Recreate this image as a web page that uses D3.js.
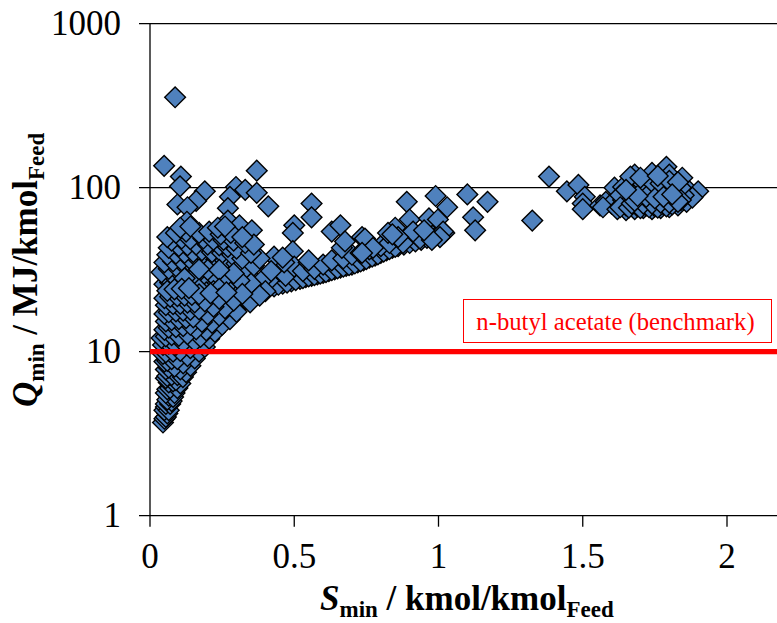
<!DOCTYPE html>
<html>
<head>
<meta charset="utf-8">
<script src="https://cdn.jsdelivr.net/npm/d3@7"></script>
<style>
  html, body { margin: 0; padding: 0; background: #fff; }
  text { font-family: "Liberation Serif", "Times New Roman", serif; }
</style>
</head>
<body>
<svg id="chart" width="777" height="623"></svg>
<script>
// Axis ticks
var xTicks = [0, 0.5, 1, 1.5, 2];
var yTicks = [1, 10, 100, 1000];
var benchmark = 10;

// Points as [S_min, Q_min], one list per part of the cloud
var outliers = [[.087,356],[.049,136],[.107,117],[.104,102],[.19,95],[.095,79],[.16,83],[.13,76],
  [.37,127],[.298,101],[.33,97],[.37,93],[.277,88],[.27,75],[.41,77],[.27,63],[.31,59],[.353,55],[.128,62],
  [.56,80],[.56,66],[.5,59],[.495,53],[.495,41],[.63,54],[.66,59]];

var lowerFan = [[.045,3.7],[.05,3.9],[.055,4.0],[.06,4.2],[.05,4.4],[.055,4.6],[.065,4.4],[.055,4.8],[.07,4.8],[.075,5.0],
  [.06,5.1],[.065,5.4],[.08,5.3],[.055,5.6],[.085,5.6],[.06,5.9],[.07,6.0],[.095,6.0],[.105,6.4],[.065,6.5],
  [.08,6.6],[.09,6.7],[.055,6.9],[.06,7.1],[.075,7.2],[.095,7.2],[.114,7.0],[.125,7.5],[.105,7.8],[.055,7.8],
  [.065,8.0],[.085,8.1],[.14,8.2],[.115,8.5],[.05,8.7],[.06,8.8],[.075,9.0],[.095,9.0],[.155,9.1],[.13,9.4],
  [.045,9.7],[.055,9.9],[.08,10],[.105,10.1],[.17,10],[.14,10.5],[.19,10.7],[.045,11],[.065,11.2],[.09,11],
  [.115,11.4],[.155,11.6],[.205,12],[.175,12.3],[.04,12.1],[.055,12.4],[.075,12.6],[.1,12.5],[.13,12.8],[.225,13.2],
  [.195,13.5],[.16,13.7],[.05,13.6],[.065,14],[.09,14.1],[.115,14.3],[.14,14.6],[.25,14.6],[.215,15],[.18,15.2],
  [.055,15.3],[.075,15.6],[.1,15.8],[.125,16],[.15,16.2],[.277,15.8],[.24,16.6],[.2,16.9],[.05,17],[.065,17.4],
  [.09,17.6],[.115,17.8],[.14,18],[.17,18.1],[.3,17.5],[.26,18.4],[.22,18.8],[.055,19.2],[.08,19.5],[.105,19.6],
  [.13,19.9],[.155,20],[.19,20.3],[.347,20],[.29,20.5],[.24,21],[.05,21.2],[.07,21.6],[.095,21.8],[.12,22],
  [.145,22.2],[.17,22.4],[.21,22.7],[.38,22],[.32,22.5],[.265,23],[.06,23.5],[.085,24],[.11,24.2],[.135,24.4]];

var fanCore = [[.1,8.3],[.12,8.9],[.13,8.6],[.145,9.6],[.16,9.8],[.12,10.4],[.15,10.2],[.175,11],[.125,11],[.165,11.2],
  [.14,11.5],[.185,11.8],[.11,11.9],[.15,12.3],[.19,12.6],[.12,12.2],[.165,12.9],[.21,13],[.14,13.2],[.18,13.8],
  [.105,13.4],[.125,13.6],[.205,14],[.15,14.2],[.17,14.5],[.23,14.3],[.13,14.9],[.195,15.2],[.155,15.3],[.24,15.4],
  [.115,15.4],[.175,15.9],[.21,15.9],[.14,16.3],[.19,16.4],[.26,16.2],[.16,16.8],[.225,17],[.125,17],[.18,17.4],
  [.205,17.6],[.245,17.8],[.15,17.8],[.28,17.4],[.1,18.2],[.19,18.4],[.165,18.6],[.235,19],[.135,19],[.21,19.4],
  [.27,19.2],[.31,19],[.18,19.5],[.15,19.4],[.115,20.3],[.2,20.5],[.25,20],[.17,20.8],[.225,21],[.14,21],
  [.33,21],[.27,21.3],[.19,21.6],[.3,21.8],[.16,22],[.245,22.3],[.21,23],[.36,23.6],[.13,23],[.18,23.4],
  [.28,23.5],[.23,23.8],[.155,23.6],[.33,24],[.2,24.6],[.3,25],[.25,25],[.4,23.4],[.175,25.6],[.22,26],
  [.27,25.8],[.35,26],[.15,26.2],[.2,27],[.24,27.2],[.31,27.2],[.12,25.6],[.18,28.2],[.26,28.4],[.22,29.2],
  [.155,29],[.29,30],[.2,31.5],[.24,31.5],[.12,28],[.17,31.8]];

var fanCentre = [[.11,9.2],[.135,9.9],[.15,11],[.16,10.6],[.13,11.6],[.175,12.4],[.145,12.7],[.185,13],[.16,13.3],[.17,13.9],
  [.135,14],[.155,14.8],[.19,14.5],[.205,15.3],[.165,15.7],[.185,16],[.145,15.8],[.2,16.3],[.22,16.4],[.17,16.6],
  [.155,17.1],[.19,17.2],[.215,17.9],[.17,17.7],[.135,17.4],[.2,18.2],[.23,18.2],[.16,18.4],[.18,18.9],[.145,18.6],
  [.205,19],[.22,19.7],[.19,19.8],[.165,19.5],[.24,19.6],[.175,20.2],[.21,20.4],[.155,20.9],[.235,20.6],[.185,21],
  [.2,21.8],[.165,21.6],[.225,22],[.18,22.4],[.255,22],[.195,23],[.145,23.2],[.22,23.4],[.17,24],[.24,24.2]];

var upperFan = [[.155,24.7],[.18,25],[.205,25.3],[.34,23.5],[.295,24.5],[.255,25.4],[.05,25.8],[.07,26.4],[.095,26.6],[.12,27],
  [.145,27.2],[.17,27.5],[.195,27.8],[.225,28],[.28,27],[.32,26.5],[.37,25.5],[.055,29],[.08,29.2],[.11,29.6],
  [.135,30],[.16,30.3],[.185,30.6],[.215,31],[.25,29.5],[.3,29],[.35,28.2],[.04,30.5],[.065,32],[.095,32.5],
  [.125,33],[.15,33.4],[.175,33.8],[.205,34],[.24,33],[.27,32],[.33,31],[.395,28],[.05,35],[.08,35.6],
  [.11,36],[.14,36.5],[.165,37],[.195,37.5],[.23,36.5],[.26,36],[.3,34.5],[.36,33.5],[.42,31],[.06,39],
  [.09,39.6],[.12,40],[.15,40.5],[.18,41.5],[.215,40.5],[.25,40],[.285,39],[.32,37],[.38,37],[.065,43],
  [.1,44],[.13,44.5],[.16,45],[.2,45],[.24,44.5],[.27,43.5],[.3,42.5],[.35,40],[.075,47.5],[.11,49],
  [.14,48.5],[.185,49],[.22,48],[.255,48],[.29,47.5],[.33,46],[.36,45],[.06,50],[.09,53],[.125,54],
  [.17,53],[.205,54],[.245,52],[.28,53],[.32,50],[.105,57],[.14,58],[.235,57],[.26,58]];

var midCurve = [[.4,24],[.43,25],[.46,26],[.49,26.8],[.52,27.8],[.54,28.5],[.56,29],[.58,29.6],[.6,30.2],[.62,31],
  [.64,31.8],[.66,32.6],[.68,33.4],[.7,34],[.72,35],[.74,36],[.76,37.5],[.78,38.5],[.8,40],[.82,41.5],
  [.84,43],[.86,44],[.88,45],[.9,46],[.92,47],[.94,48],[.96,49.5],[.98,51],[1,52],[1.02,53],
  [.445,25.6],[.475,26.4],[.505,27.3],[.53,28.1],[.55,28.8],[.57,29.3],[.59,29.9],[.61,30.6],[.63,31.4],[.65,32.2],
  [.67,33],[.69,33.7],[.71,34.5],[.73,35.5],[.75,36.7],[.77,38],[.79,39.2],[.81,40.7],[.83,42.2],[.85,43.5],
  [.42,28],[.45,31],[.47,29],[.5,33],[.53,31],[.55,35],[.57,32],[.6,34],[.63,36],[.67,37],
  [.7,39],[.73,40],[.76,42],[.8,44],[.83,46],[.465,35],[.43,38],[.665,43],[.676,47],[.735,50],
  [.745,49],[.773,43],[.735,40],[.55,36],[.46,37.5],[.89,82],[.9,64],[.99,89],[1.03,76],[1.1,91],
  [1.17,82],[1.12,66],[1.127,55],[.85,57],[.825,53],[.967,65],[.998,64],[1.016,54],[1.005,50],[.936,49],
  [.912,54],[.877,46],[.977,48],[.86,50],[.84,52],[.95,55]];

var rightCluster = [[1.325,63],[1.383,117],[1.445,95],[1.485,104],[1.507,88],[1.5,80],[1.5,74],[1.56,78],[1.58,82],[1.6,80],
  [1.57,76],[1.62,74],[1.65,73],[1.68,74],[1.71,75],[1.74,74],[1.77,75],[1.8,76],[1.83,78],[1.86,82],
  [1.61,100],[1.64,101],[1.68,120],[1.665,117],[1.74,123],[1.79,134],[1.8,120],[1.845,115],[1.87,95],[1.9,95],
  [1.88,87],[1.64,84],[1.67,86],[1.7,82],[1.73,84],[1.76,82],[1.79,84],[1.82,86],[1.85,90],[1.66,92],
  [1.69,95],[1.72,92],[1.75,96],[1.78,94],[1.81,98],[1.84,100],[1.63,90],[1.71,105],[1.74,108],[1.77,106],
  [1.8,110],[1.7,115],[1.76,118],[1.83,108],[1.65,78],[1.72,78],[1.78,79],[1.84,84],[1.63,76],[1.66,75.5],
  [1.69,77],[1.7,75],[1.73,76],[1.75,77],[1.76,75.5],[1.79,77],[1.81,79],[1.67,80],[1.71,80],[1.74,80],
  [1.77,81],[1.8,81],[1.83,82],[1.68,83],[1.72,88],[1.75,86],[1.78,88],[1.81,91],[1.69,89],[1.65,97]];

var margin = {left: 150, top: 23.7, bottom: 515.7, right: 777};

var x = d3.scaleLinear().domain([0, (margin.right - margin.left) / 288.5]).range([margin.left, margin.right]);
var y = d3.scaleLog().domain([1, 1000]).range([margin.bottom, margin.top]);

var svg = d3.select("#chart");

// Grid lines and axis lines
svg.append("g").selectAll("line")
  .data(yTicks)
  .enter().append("line")
  .attr("x1", margin.left - 11)
  .attr("x2", margin.right)
  .attr("y1", function(d) { return y(d); })
  .attr("y2", function(d) { return y(d); })
  .style("stroke", "#000")
  .style("stroke-width", 1.3);

svg.append("line")
  .attr("x1", margin.left).attr("x2", margin.left)
  .attr("y1", margin.top).attr("y2", margin.bottom + 11)
  .style("stroke", "#000").style("stroke-width", 1.3);

svg.append("g").selectAll("line")
  .data(xTicks.slice(1))
  .enter().append("line")
  .attr("x1", function(d) { return x(d); })
  .attr("x2", function(d) { return x(d); })
  .attr("y1", margin.bottom)
  .attr("y2", margin.bottom + 11)
  .style("stroke", "#000")
  .style("stroke-width", 1.3);

// Tick labels
svg.append("g").selectAll("text")
  .data(xTicks)
  .enter().append("text")
  .attr("x", function(d) { return x(d); })
  .attr("y", 568)
  .attr("text-anchor", "middle")
  .style("font-size", "35px")
  .text(function(d) { return d; });

svg.append("g").selectAll("text")
  .data(yTicks)
  .enter().append("text")
  .attr("x", 121)
  .attr("y", function(d) { return y(d) + 11; })
  .attr("text-anchor", "end")
  .style("font-size", "35px")
  .text(function(d) { return d; });

// Diamonds
var points = outliers.concat(midCurve, rightCluster, upperFan, fanCore, fanCentre, lowerFan);
var diamond = d3.symbol().type(d3.symbolSquare).size(215);

svg.append("g").selectAll("path")
  .data(points)
  .enter().append("path")
  .attr("d", diamond)
  .attr("transform", function(d) { return "translate(" + x(d[0]) + "," + y(d[1]) + ") rotate(45)"; })
  .style("fill", "#4f81bd")
  .style("stroke", "#000")
  .style("stroke-width", 1.4);

// Benchmark line and its label
svg.append("line")
  .attr("x1", margin.left).attr("x2", margin.right)
  .attr("y1", y(benchmark)).attr("y2", y(benchmark))
  .style("stroke", "#f00").style("stroke-width", 5.2);

svg.append("rect")
  .attr("x", 463.5).attr("y", 299.5)
  .attr("width", 308).attr("height", 43)
  .style("fill", "#fff").style("stroke", "#f00").style("stroke-width", 1);

svg.append("text")
  .attr("x", 615.5).attr("y", 330)
  .attr("text-anchor", "middle")
  .style("font-size", "24.7px")
  .style("fill", "#f00")
  .text("n-butyl acetate (benchmark)");

// Axis titles, each with a subscript on the symbol and on Feed
function addTitle(sel, symbol, unit) {
  sel.style("font-weight", "bold").style("font-size", "35px");
  sel.append("tspan").style("font-style", "italic").text(symbol);
  sel.append("tspan").attr("dy", 7).style("font-size", "23px").text("min");
  sel.append("tspan").attr("dy", -7).text(" / " + unit);
  sel.append("tspan").attr("dy", 7).style("font-size", "23px").text("Feed");
}

addTitle(svg.append("text").attr("x", 320).attr("y", 610), "S", "kmol/kmol");

addTitle(svg.append("text").attr("transform", "translate(37,407) rotate(-90)"), "Q", "MJ/kmol");
</script>
</body>
</html>
